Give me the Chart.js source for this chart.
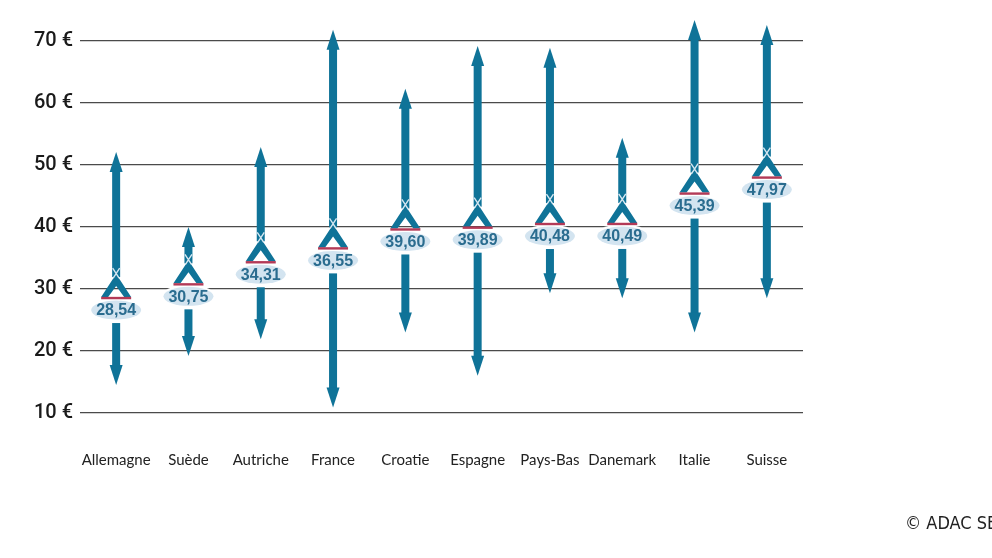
<!DOCTYPE html>
<html lang="fr">
<head>
<meta charset="utf-8">
<script src="https://cdn.jsdelivr.net/npm/chart.js@4.4.1/dist/chart.umd.min.js"></script>
<style>
  html, body { margin: 0; padding: 0; background: #fff; }
  canvas { display: block; }
</style>
</head>
<body>
<canvas id="chartPrix" width="992" height="558"></canvas>
<script>
// ===== DONNÉES =====
const pays     = ['Allemagne', 'Suède', 'Autriche', 'France', 'Croatie', 'Espagne', 'Pays-Bas', 'Danemark', 'Italie', 'Suisse'];
const moyenne  = [28.54, 30.75, 34.31, 36.55, 39.60, 39.89, 40.48, 40.49, 45.39, 47.97];
const prixMin  = [14.5, 19.2, 21.9, 10.9, 23.0, 16.0, 29.3, 28.5, 23.0, 28.5];
const prixMax  = [52.1, 40.0, 52.9, 71.8, 62.3, 69.2, 68.9, 54.4, 73.4, 72.6];
const yTicks   = [10, 20, 30, 40, 50, 60, 70];

const BLEU  = '#0f7398';
const fmt = v => v.toFixed(2).replace('.', ',');


// ===== FLÈCHES + MOYENNES =====
const flechesPlugin = {
  id: 'fleches',
  afterDatasetsDraw(chart) {
    const ctx  = chart.ctx;
    const y    = chart.scales.y;
    const meta = chart.getDatasetMeta(0);

    meta.data.forEach((bar, i) => {
      const x    = bar.x;
      const yHaut = y.getPixelForValue(prixMax[i]);
      const yBas  = y.getPixelForValue(prixMin[i]);
      const yMoy  = y.getPixelForValue(moyenne[i]);
      const yApex = yMoy - 23;

      ctx.save();
      ctx.fillStyle = BLEU;

      // tige
      ctx.fillRect(x - 4, yHaut + 16, 8, yApex - (yHaut + 16) + 2);
      ctx.fillRect(x - 4, yMoy + 25, 8, (yBas - 16) - (yMoy + 25));

      // pointes
      ctx.beginPath();
      ctx.moveTo(x, yHaut);
      ctx.lineTo(x + 6.5, yHaut + 20);
      ctx.lineTo(x - 6.5, yHaut + 20);
      ctx.closePath();
      ctx.fill();

      ctx.beginPath();
      ctx.moveTo(x, yBas);
      ctx.lineTo(x + 6.5, yBas - 20);
      ctx.lineTo(x - 6.5, yBas - 20);
      ctx.closePath();
      ctx.fill();

      // tente
      ctx.beginPath();
      ctx.moveTo(x, yApex - 1);
      ctx.lineTo(x + 15, yMoy - 1);
      ctx.lineTo(x + 8, yMoy - 1);
      ctx.lineTo(x, yApex + 11);
      ctx.lineTo(x - 8, yMoy - 1);
      ctx.lineTo(x - 15, yMoy - 1);
      ctx.closePath();
      ctx.fill();

      // croisement
      ctx.strokeStyle = '#d6e7f1';
      ctx.lineWidth = 1.4;
      ctx.beginPath();
      ctx.moveTo(x - 3.5, yApex - 7);
      ctx.lineTo(x + 3, yApex + 3);
      ctx.moveTo(x + 3.5, yApex - 7);
      ctx.lineTo(x - 3, yApex + 3);
      ctx.stroke();

      // étiquette
      ctx.fillStyle = '#ffffff';
      ctx.beginPath();
      ctx.ellipse(x, yMoy + 12, 27, 11.5, 0, 0, Math.PI * 2);
      ctx.fill();

      ctx.fillStyle = '#d3e4f0';
      ctx.beginPath();
      ctx.ellipse(x, yMoy + 12, 25, 9.5, 0, 0, Math.PI * 2);
      ctx.fill();

      // trait rouge
      ctx.fillStyle = '#b33a57';
      ctx.fillRect(x - 15, yMoy - 1.2, 30, 2.4);

      ctx.fillStyle = '#2a6c8f';
      ctx.font = 'bold 16px "Liberation Sans", Arial, sans-serif';
      ctx.textAlign = 'center';
      ctx.textBaseline = 'middle';
      ctx.fillText(fmt(moyenne[i]), x, yMoy + 13);

      ctx.restore();
    });

    // copyright
    ctx.save();
    ctx.fillStyle = '#222';
    ctx.font = '18px "Liberation Sans Narrow", "DejaVu Sans Condensed", sans-serif';
    ctx.textAlign = 'left';
    ctx.textBaseline = 'middle';
    ctx.fillText('© ADAC SE', 905, 524);
    ctx.restore();
  }
};


// ===== GRAPHIQUE =====
const ctx = document.getElementById('chartPrix').getContext('2d');

new Chart(ctx, {
  type: 'bar',
  data: {
    labels: pays,
    datasets: [{
      data: pays.map((_, i) => [prixMin[i], prixMax[i]]),
      backgroundColor: 'rgba(0,0,0,0)',
      barThickness: 8
    }]
  },
  options: {
    responsive: false,
    animation: false,
    layout: { padding: { top: 10, right: 189, left: 0, bottom: 0 } },
    plugins: {
      legend: { display: false },
      tooltip: { enabled: false }
    },
    scales: {
      x: {
        offset: true,
        grid: { display: false, drawTicks: false },
        border: { display: false },
        ticks: {
          color: '#222',
          font: { family: 'Lato', size: 15 },
          padding: 38,
          maxRotation: 0,
          autoSkip: false
        },
        afterFit: s => { s.height = 145; }
      },
      y: {
        min: 10,
        max: 75,
        afterBuildTicks: s => { s.ticks = yTicks.map(v => ({ value: v })); },
        grid: { color: '#4a4a4a', lineWidth: 1.3, drawTicks: false },
        border: { display: false },
        ticks: {
          color: '#1a1a1a',
          font: { family: 'Roboto', size: 20, weight: '500' },
          padding: 7,
          callback: v => v + ' €'
        },
        afterFit: s => { s.width = 80; s.paddingTop = 0; s.paddingBottom = 0; }
      }
    }
  },
  plugins: [flechesPlugin]
});
</script>
</body>
</html>
